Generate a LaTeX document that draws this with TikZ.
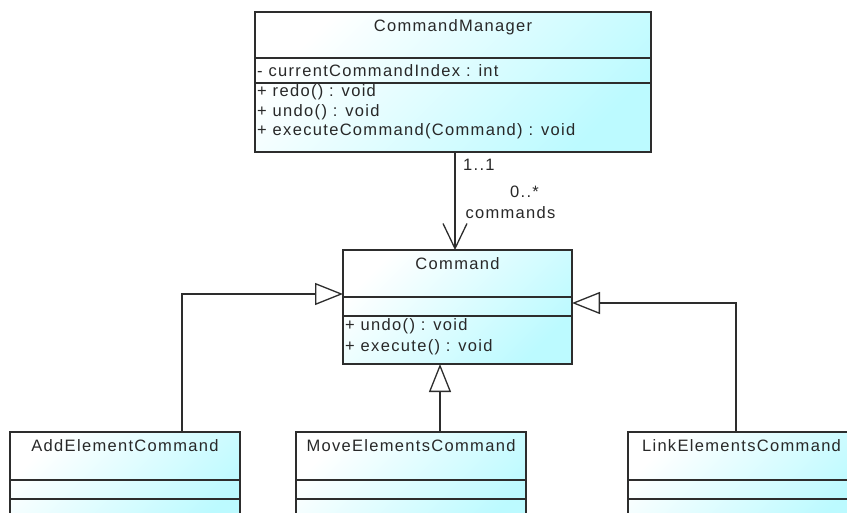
\documentclass[tikz,border=0pt]{standalone}
\usepackage{fontspec}
\newfontfamily\umlfont[LetterSpace=8]{Liberation Sans}
\usetikzlibrary{arrows.meta}

\definecolor{umlcyan}{RGB}{188,250,255}
\definecolor{umlline}{RGB}{45,45,45}
\definecolor{umltext}{RGB}{40,40,40}

\tikzset{
  classbox/.style={draw=umlline, line width=1.3pt, top color=white,
    bottom color=umlcyan, shading angle=45, inner sep=0pt, outer sep=0pt,
    anchor=north west},
  divider/.style={draw=umlline, line width=1.3pt},
  umltxt/.style={inner sep=0pt, text=umltext,
    font=\umlfont\fontsize{16.5}{19}\selectfont},
  classname/.style={umltxt, anchor=center},
  member/.style={umltxt, anchor=west},
  assoc/.style={draw=umlline, line width=1.3pt,
    -{Straight Barb[length=25pt,width=24pt]}},
  gen/.style={draw=umlline, line width=1.3pt,
    -{Triangle[open,length=28pt,width=22pt,fill=white]}},
}

\begin{document}
\begin{tikzpicture}[x=1pt,y=-1pt]
\clip (0,0) rectangle (847,512);
\fill[white] (0,0) rectangle (847,512);

% CommandManager
\node[classbox, minimum width=396pt, minimum height=140pt] (mgr) at (255,12) {};
\draw[divider] ([yshift=-46pt]mgr.north west) -- ([yshift=-46pt]mgr.north east);
\draw[divider] ([yshift=-71pt]mgr.north west) -- ([yshift=-71pt]mgr.north east);
\node[classname] (mgrname) at (453,27) {CommandManager};
\node[member] (mgrattr) at (257,70.5) {- currentCommandIndex : int};
\node[member] (mgrredo) at (257,92.5) {+ redo() : void};
\node[member] (mgrundo) at (257,112) {+ undo() : void};
\node[member] (mgrexec) at (257,131.5) {+ executeCommand(Command) : void};

% Command
\node[classbox, minimum width=229pt, minimum height=114pt] (cmd) at (343,250) {};
\draw[divider] ([yshift=-47pt]cmd.north west) -- ([yshift=-47pt]cmd.north east);
\draw[divider] ([yshift=-66pt]cmd.north west) -- ([yshift=-66pt]cmd.north east);
\node[classname] (cmdname) at (457.5,264) {Command};
\node[member] (cmdundo) at (345,326) {+ undo() : void};
\node[member] (cmdexec) at (345,347) {+ execute() : void};

% concrete commands
\node[classbox, minimum width=230pt, minimum height=100pt] (add) at (10,432) {};
\draw[divider] ([yshift=-48pt]add.north west) -- ([yshift=-48pt]add.north east);
\draw[divider] ([yshift=-67pt]add.north west) -- ([yshift=-67pt]add.north east);
\node[classname] (addname) at (125,446) {AddElementCommand};

\node[classbox, minimum width=230pt, minimum height=100pt] (move) at (296,432) {};
\draw[divider] ([yshift=-48pt]move.north west) -- ([yshift=-48pt]move.north east);
\draw[divider] ([yshift=-67pt]move.north west) -- ([yshift=-67pt]move.north east);
\node[classname] (movename) at (411,446) {MoveElementsCommand};

\node[classbox, minimum width=227pt, minimum height=100pt] (link) at (628,432) {};
\draw[divider] ([yshift=-48pt]link.north west) -- ([yshift=-48pt]link.north east);
\draw[divider] ([yshift=-67pt]link.north west) -- ([yshift=-67pt]link.north east);
\node[classname] (linkname) at (741.5,446) {LinkElementsCommand};

% association
\draw[assoc] ([xshift=2pt]mgr.south) -- ([xshift=2pt]mgr.south |- cmd.north);
\node[member] (multsrc) at (463,165) {1..1};
\node[classname] (multdst) at (524.5,192) {0..*};
\node[classname] (rolename) at (510.5,213) {commands};

% generalizations
\draw[gen] ([xshift=57pt]add.north) |- ([yshift=13pt]cmd.west);
\draw[gen] ([xshift=29pt]move.north) -- ([xshift=29pt]move.north |- cmd.south);
\draw[gen] ([xshift=-5.5pt]link.north) |- ([yshift=4pt]cmd.east);
\end{tikzpicture}
\end{document}
